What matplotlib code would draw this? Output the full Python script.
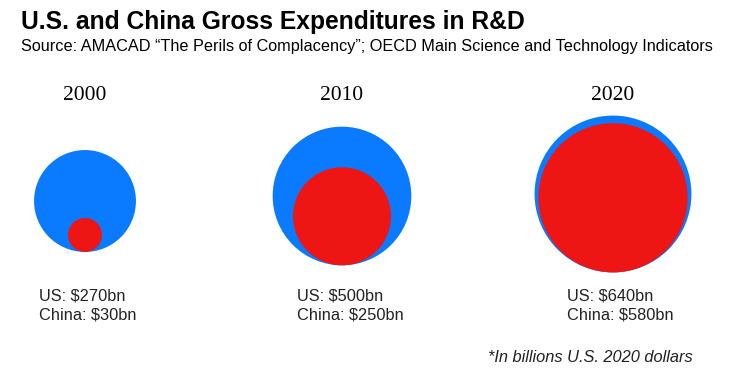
import numpy as np
import matplotlib.pyplot as plt
from matplotlib.patches import Circle

# dati (miliardi di dollari USA 2020)
anni = ["2000", "2010", "2020"]
us = [270, 500, 640]
china = [30, 250, 580]

BLU = "#0A7AFF"
ROSSO = "#EE1515"

fig = plt.figure(figsize=(7.47, 3.91), dpi=100)
ax = fig.add_axes([0, 0, 1, 1])
ax.set_xlim(0, 747)
ax.set_ylim(391, 0)
ax.axis("off")

# raggio proporzionale alla radice (area ~ valore)
k = 3.1
cx = [85, 342, 613]
cy_blu = [201, 196, 194]
label_x = [39, 297, 567]

for i in range(len(anni)):
    R = k * np.sqrt(us[i])
    r = k * np.sqrt(china[i])
    ax.add_patch(Circle((cx[i], cy_blu[i]), R, color=BLU, lw=0))
    ax.add_patch(Circle((cx[i], cy_blu[i] + R - r), r, color=ROSSO, lw=0))
    ax.text(cx[i], 95, anni[i], ha="center", va="center", fontsize=15.5,
            family="Liberation Serif")
    ax.text(label_x[i], 296, f"US: ${us[i]}bn", ha="left", va="center",
            fontsize=11.8, family="Liberation Sans", color="#222222")
    ax.text(label_x[i], 315, f"China: ${china[i]}bn", ha="left", va="center",
            fontsize=11.8, family="Liberation Sans", color="#222222")

ax.text(21, 22, "U.S. and China Gross Expenditures in R&D", ha="left", va="center",
        fontsize=17.7, fontweight="bold", family="Liberation Sans")
ax.text(21, 46, "Source: AMACAD \u201cThe Perils of Complacency\u201d; OECD Main Science and Technology Indicators",
        ha="left", va="center", fontsize=11.7, family="Liberation Sans")
ax.text(488, 357, "*In billions U.S. 2020 dollars", ha="left", va="center",
        fontsize=11.8, style="italic", family="Liberation Sans", color="#222222")

plt.savefig("out.png", dpi=100)
